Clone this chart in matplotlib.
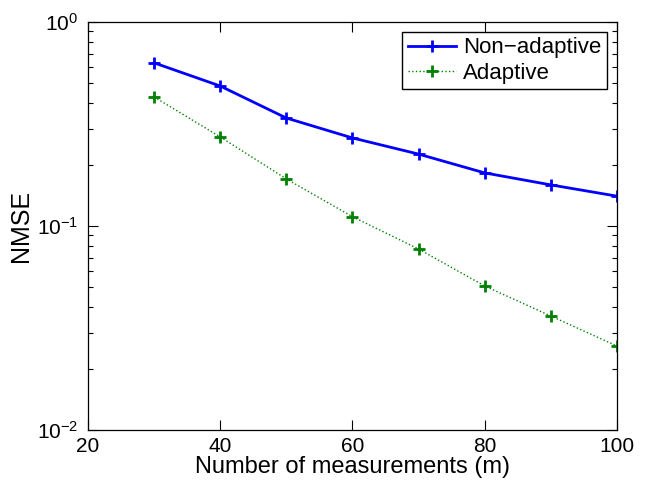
import numpy as np
import matplotlib
matplotlib.use('Agg')
import matplotlib.pyplot as plt

plt.rcParams['font.family'] = ['Liberation Sans', 'DejaVu Sans']
plt.rcParams['mathtext.fontset'] = 'custom'
plt.rcParams['mathtext.rm'] = 'Liberation Sans'
plt.rcParams['mathtext.it'] = 'Liberation Sans'
plt.rcParams['mathtext.default'] = 'regular'

# data
m = [30, 40, 50, 60, 70, 80, 90, 100]
nmse_nonadaptive = [0.63, 0.485, 0.338, 0.27, 0.225, 0.182, 0.159, 0.140]
nmse_adaptive = [0.429, 0.273, 0.170, 0.111, 0.0771, 0.0508, 0.0362, 0.0258]

fig = plt.figure(figsize=(6.57, 4.98), dpi=100)
ax = fig.add_axes([0.134, 0.1365, 0.805, 0.8195])

ax.plot(m, nmse_nonadaptive, '-+', color='#0000ff', lw=2, ms=9, mew=2,
        label='Non\u2212adaptive')
ax.plot(m, nmse_adaptive, ':+', color='#008000', lw=1, ms=9, mew=2,
        label='Adaptive')

ax.set_yscale('log')
ax.set_xlim(20, 100)
ax.set_ylim(1e-2, 1e0)
ax.set_xticks([20, 40, 60, 80, 100])
ax.set_xlabel('Number of measurements (m)', fontsize=17, labelpad=0)
ax.set_ylabel('NMSE', fontsize=18, labelpad=3)

ax.tick_params(which='both', direction='in', top=True, right=True, labelsize=15)
ax.tick_params(which='major', length=7, width=0.8)
ax.tick_params(which='minor', length=3.5, width=0.8)
ax.tick_params(axis='x', pad=5)
ax.tick_params(axis='y', pad=7)
for s in ax.spines.values():
    s.set_linewidth(0.9)

leg = ax.legend(loc='upper right', fontsize=16, fancybox=False, framealpha=1,
                edgecolor='black', borderaxespad=0.45, handlelength=2.2,
                borderpad=0.25, labelspacing=0.2, handletextpad=0.3)
leg.get_frame().set_linewidth(1)

fig.savefig('out.png', dpi=100)
